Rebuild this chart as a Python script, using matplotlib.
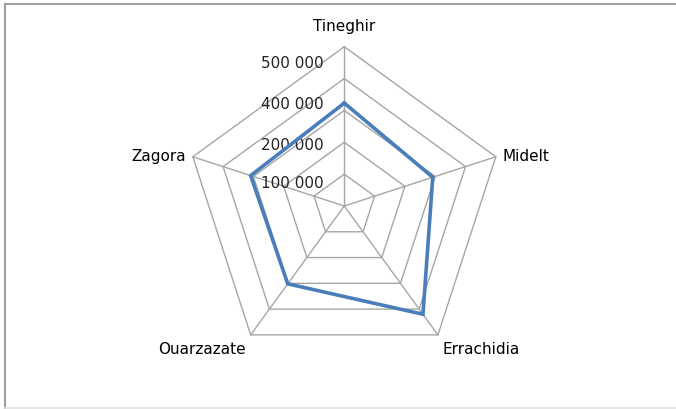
import numpy as np
import matplotlib
matplotlib.use("Agg")
import matplotlib.pyplot as plt
from matplotlib.lines import Line2D

# Data
regions = ["Tineghir", "Midelt", "Errachidia", "Ouarzazate", "Zagora"]
values = [323000, 292000, 420000, 302000, 309000]
rings = [100000, 200000, 300000, 400000, 500000]
# Excel dropped the 300 000 label (overlap); keep what is shown
tick_labels = ["500 000", "400 000", "200 000", "100 000"]
tick_label_pos = [450000, 322000, 194000, 75000]

BLUE = "#4a7ebb"
GRID = "#a6a6a6"
FS = 11

W, H = 676, 410
CX, CY = 344.3, 203.0          # centre in pixels (from bottom-left)
S = 159.3 / rings[-1]          # pixels per unit

fig = plt.figure(figsize=(W / 100, H / 100), dpi=100)
ax = fig.add_axes([0, 0, 1, 1])
ax.set_xlim(-CX / S, (W - CX) / S)
ax.set_ylim(-CY / S, (H - CY) / S)
ax.axis("off")

theta = np.arange(len(regions)) * 2 * np.pi / len(regions)
ux, uy = np.sin(theta), np.cos(theta)

# pentagon grid + spokes
for r in rings:
    ax.plot(np.append(ux, ux[0]) * r, np.append(uy, uy[0]) * r,
            color=GRID, lw=1.0, zorder=1)
for x, y in zip(ux, uy):
    ax.plot([0, x * rings[-1]], [0, y * rings[-1]], color=GRID, lw=1.0, zorder=1)

# series
v = np.array(values)
ax.plot(np.append(ux * v, ux[0] * v[0]), np.append(uy * v, uy[0] * v[0]),
        color=BLUE, lw=2.6, solid_joinstyle="miter", zorder=3)

# value labels along the top spoke
px = 21 / S
for lab, pos in zip(tick_labels, tick_label_pos):
    ax.text(-px, pos, lab, ha="right", va="center", fontsize=FS,
            color="#222222", zorder=2)

# category labels
rmax = rings[-1]
pad = 7 / S
ax.text(0, rmax + 21 / S, regions[0], ha="center", va="center", fontsize=FS)
ax.text(ux[1] * rmax + pad, uy[1] * rmax + 1 / S, regions[1], ha="left", va="center", fontsize=FS)
ax.text(ux[2] * rmax + 5 / S, uy[2] * rmax - 14 / S, regions[2], ha="left", va="center", fontsize=FS)
ax.text(ux[3] * rmax - 5 / S, uy[3] * rmax - 14 / S, regions[3], ha="right", va="center", fontsize=FS)
ax.text(ux[4] * rmax - pad, uy[4] * rmax + 1 / S, regions[4], ha="right", va="center", fontsize=FS)

# chart-area border: left and top gray, bottom faint, right cut off
x0, y0 = 5 / W, 1 - 5 / H
fig.lines.append(Line2D([x0, x0], [1.5 / H, y0], transform=fig.transFigure,
                        color="#a0a0a0", lw=1.5))
fig.lines.append(Line2D([x0, 1], [y0, y0], transform=fig.transFigure,
                        color="#a0a0a0", lw=1.5))
fig.lines.append(Line2D([x0, 1], [1.5 / H, 1.5 / H], transform=fig.transFigure,
                        color="#e0e0e0", lw=1.2))

fig.savefig("out.png", dpi=100)
